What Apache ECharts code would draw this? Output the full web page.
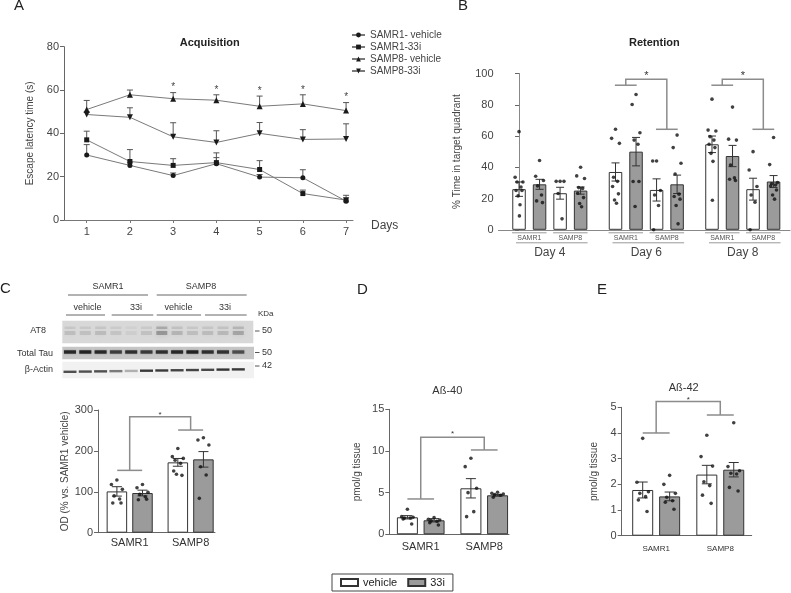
<!DOCTYPE html>
<html><head><meta charset="utf-8">
<script src="https://cdn.jsdelivr.net/npm/echarts@6/dist/echarts.min.js"></script>
<style>html,body{margin:0;padding:0;background:#fff}#c{width:791px;height:593px}</style>
</head><body><div id="c"></div>
<script>
// ================= DATA =================
// Panel A – Acquisition (escape latency, s)
const days = [1, 2, 3, 4, 5, 6, 7];
const acqNames = ['SAMR1- vehicle', 'SAMR1-33i', 'SAMP8- vehicle', 'SAMP8-33i'];
const acqR1Veh = [30, 25.2, 20.5, 26, 19.8, 19.5, 8.7];
const acqR1VehSem = [4.8, 1.5, 1.2, 2.8, 1.2, 3.7, 1.6];
const acqR133i = [37, 27, 25.2, 26.5, 23.3, 12.2, 9.2];
const acqR133iSem = [4, 5.5, 3.1, 4.5, 4.1, 1.6, 2.2];
const acqP8Veh = [51, 57.8, 56, 55.3, 52.5, 53.6, 50.5];
const acqP8VehSem = [4.2, 2.2, 2.8, 2.5, 4.7, 4.2, 3.7];
const acqP833i = [48.7, 47.4, 38.4, 35.8, 40, 37.2, 37.4];
const acqP833iSem = [1, 4.4, 6.5, 5.4, 5, 4.5, 7];
const acqSigDays = [3, 4, 5, 6, 7];

// Panel B – Retention (% time in target quadrant)
const retDays = ['Day 4', 'Day 6', 'Day 8'];
const strains = ['SAMR1', 'SAMP8'];
const treatments = ['vehicle', '33i'];
// order inside each day: SAMR1 vehicle, SAMR1 33i, SAMP8 vehicle, SAMP8 33i
const retMean = [26, 29.1, 23.4, 25.1, 37, 50, 25.5, 29.1, 54.7, 47.2, 26, 30.9];
const retSem = [4.6, 3.2, 3.8, 2.3, 5.8, 9.1, 7.1, 5.9, 5.3, 6.8, 7, 3.8];
const retDots = [
  [62.8, 33.6, 30.6, 30.6, 27.4, 25.1, 25.1, 21.7, 16, 8.9],
  [44.3, 34.3, 31.5, 28.1, 22.3, 18.5, 17.4],
  [31, 31, 31, 23.2, 7],
  [40, 34.5, 32.8, 27, 26.5, 23.4, 20.6, 16.8, 14.7],
  [64.3, 58.5, 55.3, 33.6, 31, 27.7, 23, 19.1, 17],
  [86.6, 80.2, 62.1, 57.4, 54.7, 30.9, 30.9, 14.9],
  [44, 44, 25.1, 22.3, 15.5, 0],
  [60.6, 52.6, 42.6, 35.7, 22.8, 21.3, 19.6, 15.5, 3.8],
  [83.6, 63.8, 63.2, 59.6, 57.4, 54.7, 52.6, 48.9, 43.8, 18.9],
  [78.5, 58, 57.4, 41.5, 33.2, 32.3, 31.5],
  [50, 38.3, 27.7, 22.3, 17.7, 0],
  [59.1, 41.7, 30.2, 29.5, 28.7, 28, 25.5, 22.3, 19.6]
];
const retBracketDays = [1, 2];               // Day 6, Day 8
const retBracketY = [[92.5, 64.3, 96.4], [92.5, 64.3, 96.4]]; // left, right, top

// Panel C – AT8 / total Tau OD
const odMean = [101, 97, 172, 179.3];
const odSem = [11.5, 7, 9.5, 19];
const odDots = [
  [128.8, 118, 106, 90, 82.3, 72.5, 72.5],
  [118, 110, 99, 93.7, 88, 80.7, 82],
  [206, 186, 181.7, 177, 169.5, 150.8, 140.2, 143],
  [232, 226.6, 214.3, 161.4, 141, 84]
];
const odBracket = [152.4, 251, 283.6];

// Panel D – Aß-40
const ab40Mean = [2.04, 1.68, 5.52, 4.68];
const ab40Sem = [0.2, 0.2, 1.16, 0.1];
const ab40Dots = [
  [3.0, 2.12, 2.04, 1.96, 1.96, 1.84, 1.24],
  [2.0, 1.8, 1.72, 1.64, 1.56, 1.4, 1.12],
  [9.12, 8.12, 5.52, 5.0, 2.72, 2.12],
  [5.04, 4.92, 4.84, 4.76, 4.68, 4.44]
];
const ab40Bracket = [4.24, 10.12, 11.64];

// Panel E – Aß-42
const ab42Mean = [1.78, 1.53, 2.38, 2.57];
const ab42Sem = [0.31, 0.17, 0.36, 0.28];
const ab42Dots = [
  [3.79, 2.08, 1.71, 1.65, 1.52, 1.39, 0.94],
  [2.35, 2.0, 1.65, 1.5, 1.36, 1.3, 1.03],
  [3.91, 3.08, 2.71, 2.1, 1.95, 1.58, 1.26],
  [4.4, 2.69, 2.53, 2.43, 2.4, 1.88, 1.74]
];
const ab42Bracket = [4.0, 4.7, 5.23];

// Western blot appearance (band darkness per lane, 12 lanes)
const at8Band = [0.16, 0.15, 0.18, 0.13, 0.07, 0.14, 0.4, 0.22, 0.16, 0.18, 0.2, 0.32];
const tauBand = [0.85, 0.9, 0.85, 0.7, 0.8, 0.72, 0.8, 0.85, 0.92, 0.8, 0.78, 0.6];
const actinBand = [0.75, 0.75, 0.75, 0.55, 0.3, 0.85, 0.85, 0.8, 0.8, 0.78, 0.88, 0.85];

// ================= STYLE / HELPERS =================
const FONT = 'Liberation Sans, Arial, Helvetica, sans-serif';
const TXT = '#333';
const GRAY_BAR = '#9b9b9b';
const chart = echarts.init(document.getElementById('c'), null, { renderer: 'canvas' });

function jitter(n, amp) {
  const p = [0, -1, 1, -0.5, 0.5, -0.75, 0.75, -0.25, 0.25, 0.1];
  return Array.from({ length: n }, (_, i) => p[i % p.length] * amp);
}
function errRender(capPx, lowerCap, color) {
  return function (params, api) {
    const x = api.value(0), lo = api.value(1), hi = api.value(2);
    const a = api.coord([x, hi]), b = api.coord([x, lo]);
    const st = { stroke: color, lineWidth: 1 };
    const ch = [
      { type: 'line', shape: { x1: a[0], y1: a[1], x2: b[0], y2: b[1] }, style: st },
      { type: 'line', shape: { x1: a[0] - capPx / 2, y1: a[1], x2: a[0] + capPx / 2, y2: a[1] }, style: st }
    ];
    if (lowerCap) ch.push({ type: 'line', shape: { x1: b[0] - capPx / 2, y1: b[1], x2: b[0] + capPx / 2, y2: b[1] }, style: st });
    return { type: 'group', children: ch };
  };
}
function bracketRender(hw, starSize, starGap) {
  return function (params, api) {
    const l = api.value(0), r = api.value(1), ly = api.value(2), ry = api.value(3), ty = api.value(4);
    const p = (x, y) => api.coord([x, y]);
    const st = { stroke: '#8c8c8c', lineWidth: 1.5, fill: null };
    const LB = p(l, ly), LT = p(l, ty), RT = p(r, ty), RB = p(r, ry);
    const l1 = p(l - hw, ly), l2 = p(l + hw, ly), r1 = p(r - hw, ry), r2 = p(r + hw, ry);
    return { type: 'group', children: [
      { type: 'polyline', shape: { points: [LB, LT, RT, RB] }, style: st },
      { type: 'line', shape: { x1: l1[0], y1: l1[1], x2: l2[0], y2: l2[1] }, style: st },
      { type: 'line', shape: { x1: r1[0], y1: r1[1], x2: r2[0], y2: r2[1] }, style: st },
      { type: 'text', x: (LT[0] + RT[0]) / 2, y: LT[1] - starGap,
        style: { text: '*', fontSize: starSize, fontFamily: FONT, fill: '#333', align: 'center', verticalAlign: 'middle' } }
    ] };
  };
}
function starRender(size, gap) {
  return function (params, api) {
    const c = api.coord([api.value(0), api.value(1)]);
    return { type: 'text', x: c[0], y: c[1] - gap,
      style: { text: '*', fontSize: size, fontFamily: FONT, fill: '#444', align: 'center', verticalAlign: 'middle' } };
  };
}

const series = [];

// ---- Panel A series ----
const acqMeans = [acqR1Veh, acqR133i, acqP8Veh, acqP833i];
const acqSems = [acqR1VehSem, acqR133iSem, acqP8VehSem, acqP833iSem];
const acqSymbols = [['circle', 0, 5], ['rect', 0, 5], ['triangle', 0, 6], ['triangle', 180, 6]];
acqMeans.forEach((m, k) => {
  series.push({
    type: 'custom', name: 'acqErr' + k, xAxisIndex: 0, yAxisIndex: 0, z: 3,
    renderItem: errRender(6, false, '#555'), encode: { x: 0, y: [1, 2] },
    data: days.map((d, i) => [d, m[i], m[i] + acqSems[k][i]])
  });
  series.push({
    type: 'line', name: acqNames[k], xAxisIndex: 0, yAxisIndex: 0, z: 4,
    symbol: acqSymbols[k][0], symbolRotate: acqSymbols[k][1], symbolSize: acqSymbols[k][2],
    lineStyle: { color: '#7a7a7a', width: 1 }, itemStyle: { color: '#1a1a1a' },
    data: days.map((d, i) => [d, m[i]])
  });
});
series.push({
  type: 'custom', name: 'acqSig', xAxisIndex: 0, yAxisIndex: 0, z: 5,
  renderItem: starRender(10, 5), encode: { x: 0, y: 1 },
  data: acqSigDays.map(d => { const i = days.indexOf(d); return [d, acqP8Veh[i] + acqP8VehSem[i]]; })
});

// ---- Panel B series ----
const retBarX = (d, s, t) => d * 4.7 + s * 2 + t;
const retPairX = (d, s) => d * 4.7 + s * 2 + 0.5;
const retDayX = d => d * 4.7 + 1.5;
function barGroupSeries(ax, xOf, mean, sem, dots, barW, cap, jit) {
  const veh = [], trt = [], err = [], pts = [];
  mean.forEach((v, i) => {
    const x = xOf(i);
    (i % 2 === 0 ? veh : trt).push([x, v]);
    err.push([x, v - sem[i], v + sem[i]]);
    const j = jitter(dots[i].length, jit);
    dots[i].forEach((y, k) => pts.push([x + j[k], y]));
  });
  series.push({ type: 'bar', name: 'vehicle', xAxisIndex: ax, yAxisIndex: ax, barWidth: barW, barGap: '-100%', z: 2,
    itemStyle: { color: '#ffffff', borderColor: '#333', borderWidth: 1 }, data: veh });
  series.push({ type: 'bar', name: '33i', xAxisIndex: ax, yAxisIndex: ax, barWidth: barW, barGap: '-100%', z: 2,
    itemStyle: { color: GRAY_BAR, borderColor: '#333', borderWidth: 1 }, data: trt });
  series.push({ type: 'custom', name: 'err' + ax, xAxisIndex: ax, yAxisIndex: ax, z: 3,
    renderItem: errRender(cap, true, '#333'), encode: { x: 0, y: [1, 2] }, data: err });
  series.push({ type: 'scatter', name: 'dots' + ax, xAxisIndex: ax, yAxisIndex: ax, z: 4,
    symbolSize: 3.6, itemStyle: { color: '#111' }, data: pts });
}
barGroupSeries(1, i => retBarX(Math.floor(i / 4), Math.floor((i % 4) / 2), i % 2), retMean, retSem, retDots, 13.5, 8, 0.19);
series.push({ type: 'custom', name: 'brB', xAxisIndex: 1, yAxisIndex: 1, z: 6, clip: false,
  renderItem: bracketRender(0.53, 11, 3), encode: { x: [0, 1], y: [2, 3, 4] },
  data: retBracketDays.map((d, i) => [retPairX(d, 0), retPairX(d, 1)].concat(retBracketY[i])) });

// ---- Panels C, D, E ----
const smallX = i => Math.floor(i / 2) + 1 + (i % 2 ? 0.21 : -0.21);
barGroupSeries(2, smallX, odMean, odSem, odDots, 20.5, 10, 0.09);
barGroupSeries(3, smallX, ab40Mean, ab40Sem, ab40Dots, 21, 10, 0.09);
barGroupSeries(4, smallX, ab42Mean, ab42Sem, ab42Dots, 21, 10, 0.09);
series.push({ type: 'custom', name: 'brC', xAxisIndex: 2, yAxisIndex: 2, z: 6, clip: false,
  renderItem: bracketRender(0.205, 8, 2), encode: { x: [0, 1], y: [2, 3, 4] }, data: [[1, 2].concat(odBracket)] });
series.push({ type: 'custom', name: 'brD', xAxisIndex: 3, yAxisIndex: 3, z: 6, clip: false,
  renderItem: bracketRender(0.21, 8, 4), encode: { x: [0, 1], y: [2, 3, 4] }, data: [[1, 2].concat(ab40Bracket)] });
series.push({ type: 'custom', name: 'brE', xAxisIndex: 4, yAxisIndex: 4, z: 6, clip: false,
  renderItem: bracketRender(0.21, 8, 2), encode: { x: [0, 1], y: [2, 3, 4] }, data: [[1, 2].concat(ab42Bracket)] });

// ---- axes ----
const axLine = c => ({ show: true, lineStyle: { color: c, width: 1 } });
const pairCenters = [], pairNames = {};
retDays.forEach((_, d) => strains.forEach((s, si) => { const x = retPairX(d, si); pairCenters.push(x); pairNames[x.toFixed(2)] = s; }));
const dayCenters = retDays.map((_, d) => retDayX(d));
const dayNames = {}; dayCenters.forEach((x, d) => dayNames[x.toFixed(2)] = retDays[d]);
const strainLabel = v => strains[Math.round(v) - 1] || '';

function yAx(grid, max, interval, name, gap, fs) {
  return { type: 'value', gridIndex: grid, min: 0, max: max, interval: interval,
    name: name, nameLocation: 'middle', nameGap: gap, nameTextStyle: { fontSize: 10, color: '#444' },
    axisLine: axLine(grid === 1 ? '#888' : '#666'), axisTick: { show: true, length: 4, lineStyle: { color: '#666' } },
    axisLabel: { fontSize: fs, color: '#444', margin: 5 }, splitLine: { show: false } };
}
function xSmall(grid, min, max, fs, margin) {
  return { type: 'value', gridIndex: grid, min: min, max: max, axisLine: axLine('#666'), axisTick: { show: false },
    splitLine: { show: false },
    axisLabel: { customValues: [1, 2], formatter: strainLabel, fontSize: fs, color: TXT, margin: margin } };
}

const option = {
  animation: false,
  backgroundColor: '#fff',
  textStyle: { fontFamily: FONT },
  grid: [
    { left: 64, top: 46.7, width: 289, height: 173.3 },
    { left: 498.5, top: 73.5, width: 291.5, height: 156.3 },
    { left: 98, top: 410, width: 117, height: 122.7 },
    { left: 389.3, top: 409.3, width: 119.7, height: 125 },
    { left: 621.7, top: 407.3, width: 130, height: 128.4 }
  ],
  xAxis: [
    { type: 'value', gridIndex: 0, min: 0.475, max: 7.16, axisLine: axLine('#777'),
      axisTick: { show: true, customValues: days, length: 3, lineStyle: { color: '#777' } },
      axisLabel: { customValues: days, fontSize: 11, color: '#444', margin: 6 }, splitLine: { show: false },
      name: 'Days', nameLocation: 'end', nameGap: 18, nameTextStyle: { fontSize: 12, color: '#444', verticalAlign: 'top', padding: [0, 0, 0, 0] } },
    { type: 'value', gridIndex: 1, min: -1, max: 13.2, position: 'bottom', axisLine: axLine('#888'), axisTick: { show: false },
      splitLine: { show: false },
      axisLabel: { customValues: pairCenters, formatter: v => pairNames[v.toFixed(2)] || '', fontSize: 7, color: '#555', margin: 5 } },
    xSmall(2, 0.48, 2.4, 11, 5),
    xSmall(3, 0.505, 2.39, 11, 7),
    xSmall(4, 0.4625, 2.49, 8, 9),
    { type: 'value', gridIndex: 1, min: -1, max: 13.2, position: 'bottom', axisLine: { show: false }, axisTick: { show: false },
      splitLine: { show: false },
      axisLabel: { customValues: dayCenters, formatter: v => dayNames[v.toFixed(2)] || '', fontSize: 12, color: '#444', margin: 17 } }
  ],
  yAxis: [
    yAx(0, 80, 20, 'Escape latency time (s)', 29, 11),
    yAx(1, 100, 20, '% Time in target quadrant', 36, 11),
    yAx(2, 300, 100, 'OD (% vs. SAMR1 vehicle)', 28, 11),
    yAx(3, 15, 5, 'pmol/g tissue', 27, 11),
    yAx(4, 5, 1, 'pmol/g tissue', 22, 11)
  ],
  title: [
    { text: 'Acquisition', left: 209.7, top: 37, textAlign: 'center', padding: 0, textStyle: { fontSize: 11, fontWeight: 'bold', color: '#222' } },
    { text: 'Retention', left: 654.3, top: 37, textAlign: 'center', padding: 0, textStyle: { fontSize: 11, fontWeight: 'bold', color: '#222' } },
    { text: 'Aß-40', left: 447.3, top: 385, textAlign: 'center', padding: 0, textStyle: { fontSize: 11, fontWeight: 'normal', color: TXT } },
    { text: 'Aß-42', left: 683.7, top: 382, textAlign: 'center', padding: 0, textStyle: { fontSize: 11, fontWeight: 'normal', color: TXT } }
  ],
  legend: [
    { data: acqNames, orient: 'vertical', left: 351, top: 29, padding: 0, itemGap: 0, itemWidth: 13, itemHeight: 6,
      selectedMode: false, textStyle: { fontSize: 10, color: '#444', lineHeight: 12 } },
    { data: treatments, left: 332, top: 574, padding: [3, 8, 3, 8], itemGap: 10, itemWidth: 17, itemHeight: 7, icon: 'rect',
      selectedMode: false, borderColor: '#444', borderWidth: 1, textStyle: { fontSize: 11, color: '#222' } }
  ],
  series: series
};
chart.setOption(option);

// ================= decorations (letters, blot, group lines) =================
const gfx = [];
const txt = (t, x, y, fs, align) => gfx.push({ type: 'text', x: x, y: y,
  style: { text: t, fontSize: fs, fontFamily: FONT, fill: TXT, align: align || 'left', verticalAlign: 'middle' } });
const ln = (x1, y1, x2, y2, c, w) => gfx.push({ type: 'line', shape: { x1: x1, y1: y1, x2: x2, y2: y2 }, style: { stroke: c || '#666', lineWidth: w || 1 } });
const rc = (x, y, w, h, fill) => gfx.push({ type: 'rect', shape: { x: x, y: y, width: w, height: h }, style: { fill: fill } });

// panel letters
[['A', 14, 6], ['B', 458, 6], ['C', 0, 289], ['D', 357, 290], ['E', 597, 290]].forEach(l =>
  gfx.push({ type: 'text', x: l[1], y: l[2], style: { text: l[0], fontSize: 15, fontFamily: FONT, fill: '#222', verticalAlign: 'middle' } }));

// B: pair underlines and day underlines
const y0 = chart.convertToPixel({ gridIndex: 1 }, [0, 0])[1];
retDays.forEach((_, d) => {
  strains.forEach((s, si) => {
    const a = chart.convertToPixel({ gridIndex: 1 }, [retBarX(d, si, 0), 0])[0] - 7;
    const b = chart.convertToPixel({ gridIndex: 1 }, [retBarX(d, si, 1), 0])[0] + 7;
    ln(a, y0 + 3, b, y0 + 3, '#999', 1);
  });
  const a = chart.convertToPixel({ gridIndex: 1 }, [retBarX(d, 0, 0), 0])[0] - 3;
  const b = chart.convertToPixel({ gridIndex: 1 }, [retBarX(d, 1, 1), 0])[0] + 7;
  ln(a, y0 + 13, b, y0 + 13, '#999', 1);
});

// C: western blot
txt('SAMR1', 108, 287, 9, 'center'); txt('SAMP8', 201, 287, 9, 'center');
ln(68, 295, 148, 295); ln(156.7, 295, 246.7, 295);
[['vehicle', 87.5], ['33i', 136], ['vehicle', 178.5], ['33i', 225]].forEach(v => txt(v[0], v[1], 308, 9, 'center'));
ln(66, 315, 105, 315); ln(111.7, 315, 153.3, 315); ln(156.7, 315, 201, 315); ln(205, 315, 246.7, 315);
txt('KDa', 258, 314, 8, 'left');
rc(62.3, 320.7, 191, 22.6, '#d8d8d8');
rc(62.3, 346.7, 191.7, 12.6, '#c6c6c6');
rc(62.3, 361.7, 191.7, 16.6, '#f1f1f1');
at8Band.forEach((a, i) => {
  const c = 70 + i * 15.3;
  gfx.push({ type: 'rect', shape: { x: c - 5.5, y: 331, width: 11, height: 4 }, style: { fill: 'rgba(70,70,70,' + a + ')', shadowBlur: 5, shadowColor: 'rgba(70,70,70,' + a + ')' } });
  gfx.push({ type: 'rect', shape: { x: c - 5.5, y: 326.5, width: 11, height: 2.5 }, style: { fill: 'rgba(70,70,70,' + (a * 0.7) + ')', shadowBlur: 5, shadowColor: 'rgba(70,70,70,' + (a * 0.7) + ')' } });
});
tauBand.forEach((a, i) => {
  const c = 70 + i * 15.3;
  gfx.push({ type: 'rect', shape: { x: c - 6, y: 350.3, width: 12, height: 3.4 }, style: { fill: 'rgba(25,25,25,' + a + ')', shadowBlur: 1.5, shadowColor: 'rgba(25,25,25,0.5)' } });
});
actinBand.forEach((a, i) => {
  const c = 70 + i * 15.3;
  gfx.push({ type: 'rect', shape: { x: c - 6.5, y: 370.6 - i * 0.22, width: 13, height: 2.4 }, style: { fill: 'rgba(25,25,25,' + a + ')' } });
});
txt('AT8', 46, 331, 9, 'right'); txt('Total Tau', 53, 354, 9, 'right'); txt('β-Actin', 53, 369.5, 9, 'right');
[[331, '50'], [352.5, '50'], [366, '42']].forEach(k => { ln(255, k[0], 259.5, k[0], '#555', 1); txt(k[1], 262, k[0], 9, 'left'); });

chart.setOption({ graphic: { elements: gfx } });
</script>
</body></html>
